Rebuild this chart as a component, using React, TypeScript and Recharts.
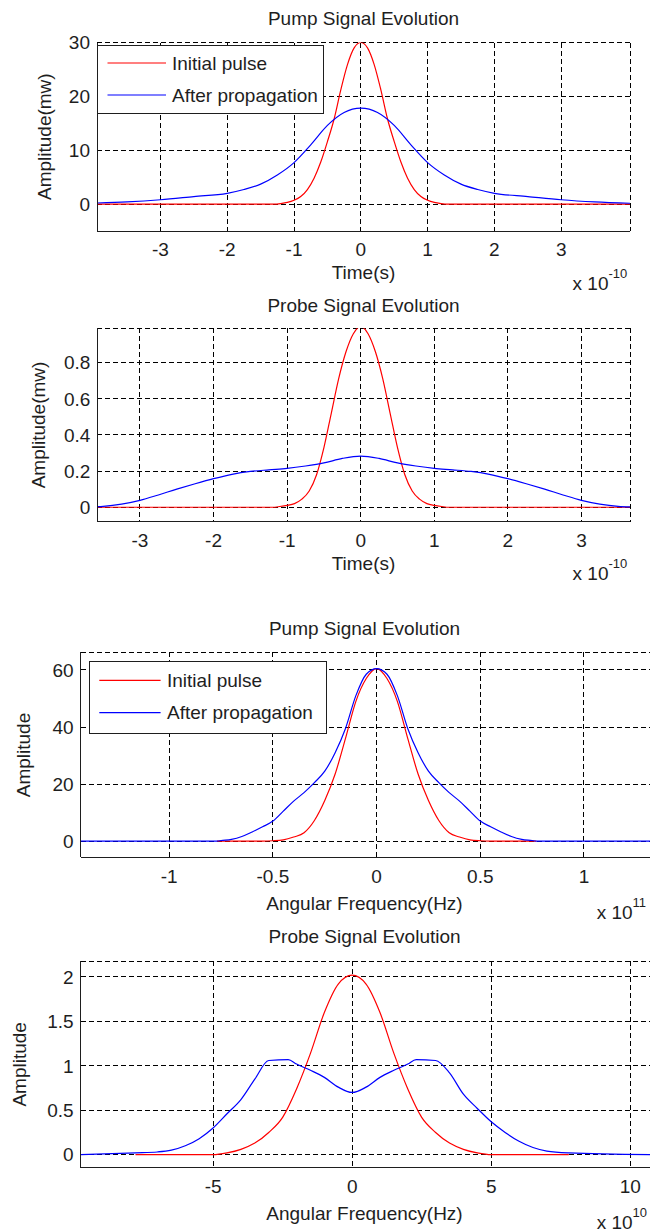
import { CartesianGrid, Legend, Line, LineChart, XAxis, YAxis } from "recharts";

const FONT = '"Liberation Sans", Arial, Helvetica, sans-serif';
const INK = "#1e1e1e";
const RED = "#ff0000";
const BLUE = "#0000ff";
const seriesNames = ["Initial pulse", "After propagation"];

// Pump, time domain (x in 1e-10 s, amplitude in mW)
const pumpTimeInitialX = [-3.95, -1.3, -1.2, -1.1, -1.0, -0.9, -0.8, -0.7, -0.6, -0.5, -0.4, -0.3, -0.2, -0.1, 0, 0.1, 0.2, 0.3, 0.4, 0.5, 0.6, 0.7, 0.8, 0.9, 1.0, 1.1, 1.2, 1.3, 4.03];
const pumpTimeInitialY = [0, 0, 0.1, 0.3, 0.7, 1.4, 2.7, 4.8, 7.8, 11.6, 15.8, 21.2, 25.9, 29.0, 30, 29.0, 25.9, 21.2, 15.8, 11.6, 7.8, 4.8, 2.7, 1.4, 0.7, 0.3, 0.1, 0, 0];
const pumpTimeAfterX = [-3.95, -3.5, -3.0, -2.5, -2.0, -1.75, -1.5, -1.25, -1.0, -0.75, -0.5, -0.25, 0, 0.25, 0.5, 0.75, 1.0, 1.25, 1.5, 1.75, 2.0, 2.5, 3.0, 3.5, 4.03];
const pumpTimeAfterY = [0.2, 0.4, 0.8, 1.4, 2.0, 2.7, 3.7, 5.4, 7.7, 11.0, 14.6, 17.0, 17.8, 17.0, 14.6, 11.0, 7.7, 5.4, 3.7, 2.7, 2.0, 1.4, 0.8, 0.4, 0.15];

// Probe, time domain
const probeTimeInitialX = [-3.58, -1.2, -1.1, -1.0, -0.9, -0.8, -0.7, -0.6, -0.5, -0.4, -0.3, -0.2, -0.1, 0, 0.1, 0.2, 0.3, 0.4, 0.5, 0.6, 0.7, 0.8, 0.9, 1.0, 1.1, 1.2, 3.66];
const probeTimeInitialY = [0, 0, 0.004, 0.01, 0.02, 0.045, 0.09, 0.18, 0.33, 0.52, 0.71, 0.86, 0.96, 1.0, 0.96, 0.86, 0.71, 0.52, 0.33, 0.18, 0.09, 0.045, 0.02, 0.01, 0.004, 0, 0];
const probeTimeAfterX = [-3.58, -3.5, -3.25, -3.0, -2.75, -2.5, -2.25, -2.0, -1.75, -1.5, -1.25, -1.0, -0.75, -0.5, -0.25, 0, 0.25, 0.5, 0.75, 1.0, 1.25, 1.5, 1.75, 2.0, 2.25, 2.5, 2.75, 3.0, 3.25, 3.5, 3.66];
const probeTimeAfterY = [0.003, 0.005, 0.017, 0.038, 0.068, 0.1, 0.13, 0.158, 0.182, 0.198, 0.207, 0.215, 0.228, 0.245, 0.27, 0.283, 0.27, 0.245, 0.228, 0.215, 0.207, 0.198, 0.182, 0.158, 0.13, 0.1, 0.068, 0.038, 0.017, 0.005, 0.002];

// Pump, spectrum (x in 1e11 Hz)
const pumpFreqInitialX = [-0.77, -0.55, -0.5, -0.45, -0.4, -0.35, -0.3, -0.25, -0.2, -0.15, -0.1, -0.05, 0, 0.05, 0.1, 0.15, 0.2, 0.25, 0.3, 0.35, 0.4, 0.45, 0.5, 0.55, 0.77];
const pumpFreqInitialY = [0, 0, 0.1, 0.4, 1.4, 2.9, 7.2, 14.2, 23.5, 36, 49, 57, 60.5, 57, 49, 36, 23.5, 14.2, 7.2, 2.9, 1.4, 0.4, 0.1, 0, 0];
const pumpFreqAfterX = [-1.427, -0.77, -0.75, -0.7, -0.65, -0.6, -0.55, -0.5, -0.45, -0.4, -0.35, -0.3, -0.25, -0.2, -0.15, -0.1, -0.05, 0, 0.05, 0.1, 0.15, 0.2, 0.25, 0.3, 0.35, 0.4, 0.45, 0.5, 0.55, 0.6, 0.65, 0.7, 0.75, 0.77, 1.328];
const pumpFreqAfterY = [0, 0, 0.2, 0.6, 1.6, 3.2, 5, 7, 10.5, 14, 17, 20.5, 24.5, 31, 39.5, 51, 58.5, 60.5, 58.5, 51, 39.5, 31, 24.5, 20.5, 17, 14, 10.5, 7, 5, 3.2, 1.6, 0.6, 0.2, 0, 0];

// Probe, spectrum (x in 1e10 Hz)
const probeFreqInitialX = [-7.79, -5, -4.5, -4, -3.5, -3, -2.5, -2, -1.5, -1, -0.5, 0, 0.5, 1, 1.5, 2, 2.5, 3, 3.5, 4, 4.5, 5, 7.79];
const probeFreqInitialY = [0, 0, 0.02, 0.06, 0.13, 0.25, 0.42, 0.74, 1.14, 1.6, 1.92, 2.02, 1.92, 1.6, 1.14, 0.74, 0.42, 0.25, 0.13, 0.06, 0.02, 0, 0];
const probeFreqAfterX = [-9.76, -7.79, -7, -6.5, -6, -5.5, -5, -4.5, -4, -3.5, -3, -2.3, -2, -1.5, -1, -0.5, 0, 0.5, 1, 1.5, 2, 2.3, 3, 3.5, 4, 4.5, 5, 5.5, 6, 6.5, 7, 7.79, 10.78];
const probeFreqAfterY = [0, 0.02, 0.03, 0.05, 0.1, 0.18, 0.3, 0.46, 0.62, 0.85, 1.06, 1.07, 1.02, 0.95, 0.87, 0.76, 0.7, 0.76, 0.87, 0.95, 1.02, 1.07, 1.06, 0.92, 0.68, 0.52, 0.37, 0.25, 0.15, 0.08, 0.04, 0.02, 0];

const timeTicks = [-3, -2, -1, 0, 1, 2, 3];
const pumpTimeYTicks = [0, 10, 20, 30];
const probeTimeYTicks = [0, 0.2, 0.4, 0.6, 0.8];
const pumpFreqXTicks = [-1, -0.5, 0, 0.5, 1];
const pumpFreqYTicks = [0, 20, 40, 60];
const probeFreqXTicks = [-5, 0, 5, 10];
const probeFreqYTicks = [0, 0.5, 1, 1.5, 2];

type Pt = { x: number; y: number };
const zip = (xs: number[], ys: number[]): Pt[] => xs.map((x, i) => ({ x, y: ys[i] }));

type LegendLayout = {
  left: number;
  top: number;
  width: number;
  height: number;
  rows: number[];
  lineX: [number, number];
  textX: number;
};

type PanelProps = {
  top: number;
  width: number;
  height: number;
  margin: { top: number; right: number; bottom: number; left: number };
  xDomain: [number, number];
  yDomain: [number, number];
  xTicks: number[];
  yTicks: number[];
  initial: Pt[];
  after: Pt[];
  legend?: LegendLayout;
};

function LegendBox({ payload, box }: { payload: any[]; box: LegendLayout }) {
  // keep plot order (red first), whatever order the legend hands over
  const items = [...payload].sort((a, b) => seriesNames.indexOf(a.value) - seriesNames.indexOf(b.value));
  return (
    <svg width={box.width} height={box.height} style={{ display: "block" }}>
      <rect x={0.5} y={0.5} width={box.width - 1} height={box.height - 1} fill="#fff" stroke={INK} shapeRendering="crispEdges" />
      {items.map((entry, i) => (
        <g key={entry.value}>
          <line x1={box.lineX[0]} x2={box.lineX[1]} y1={box.rows[i]} y2={box.rows[i]} stroke={entry.color} strokeWidth={1.2} />
          <text x={box.textX} y={box.rows[i] + 6.5} fontSize={19} fill={INK} fontFamily={FONT}>
            {entry.value}
          </text>
        </g>
      ))}
    </svg>
  );
}

function Panel(props: PanelProps) {
  const { legend } = props;
  const tick = { fontSize: 19, fill: INK, fontFamily: FONT };
  const edge = { stroke: INK, shapeRendering: "crispEdges" };
  return (
    <div style={{ position: "absolute", left: 0, top: props.top }}>
      <LineChart width={props.width} height={props.height} margin={props.margin}>
        <CartesianGrid stroke="#000" strokeDasharray="5 3" shapeRendering="crispEdges" />
        <XAxis
          dataKey="x"
          type="number"
          domain={props.xDomain}
          ticks={props.xTicks}
          interval={0}
          allowDataOverflow
          height={40}
          tick={tick}
          tickLine={false}
          tickSize={6}
          tickMargin={6}
          axisLine={edge}
        />
        <XAxis xAxisId="top" orientation="top" type="number" domain={props.xDomain} allowDataOverflow height={0} tick={false} tickLine={false} axisLine={edge} />
        <YAxis
          type="number"
          domain={props.yDomain}
          ticks={props.yTicks}
          interval={0}
          allowDataOverflow
          width={60}
          tick={tick}
          tickLine={false}
          tickSize={6}
          tickMargin={1}
          axisLine={edge}
        />
        <YAxis yAxisId="right" orientation="right" type="number" domain={props.yDomain} allowDataOverflow width={0} tick={false} tickLine={false} axisLine={edge} />
        <Line data={props.initial} dataKey="y" name={seriesNames[0]} type="monotone" stroke={RED} strokeWidth={1.2} dot={false} activeDot={false} isAnimationActive={false} />
        <Line data={props.after} dataKey="y" name={seriesNames[1]} type="monotone" stroke={BLUE} strokeWidth={1.2} dot={false} activeDot={false} isAnimationActive={false} />
        {legend ? (
          <Legend
            layout="vertical"
            align="center"
            verticalAlign="middle"
            wrapperStyle={{ left: legend.left, top: legend.top, width: legend.width, height: legend.height }}
            content={(p: any) => <LegendBox payload={p.payload ?? []} box={legend} />}
          />
        ) : null}
      </LineChart>
    </div>
  );
}

function Labels() {
  const t = { fontSize: 19, fill: INK, fontFamily: FONT };
  const sup = (x: number, y: number, power: string) => (
    <text x={x} y={y} {...t}>
      x 10
      <tspan dy={-12.5} fontSize={13}>
        {power}
      </tspan>
    </text>
  );
  return (
    <svg width={650} height={1232} style={{ position: "absolute", left: 0, top: 0, pointerEvents: "none" }}>
      <text x={363.5} y={25.3} textAnchor="middle" {...t}>Pump Signal Evolution</text>
      <text x={363.5} y={279.3} textAnchor="middle" {...t}>Time(s)</text>
      <text transform="translate(51 136.7) rotate(-90)" textAnchor="middle" {...t}>Amplitude(mw)</text>
      {sup(572.6, 290, "-10")}

      <text x={363.5} y={312} textAnchor="middle" {...t}>Probe Signal Evolution</text>
      <text x={363.5} y={570.3} textAnchor="middle" {...t}>Time(s)</text>
      <text transform="translate(44.5 425) rotate(-90)" textAnchor="middle" {...t}>Amplitude(mw)</text>
      {sup(572.6, 580, "-10")}

      <text x={364.5} y={635.3} textAnchor="middle" {...t}>Pump Signal Evolution</text>
      <text x={364.5} y={909.6} textAnchor="middle" {...t}>Angular Frequency(Hz)</text>
      <text transform="translate(30.4 755) rotate(-90)" textAnchor="middle" {...t}>Amplitude</text>
      {sup(596.7, 919, "11")}

      <text x={364.5} y={943} textAnchor="middle" {...t}>Probe Signal Evolution</text>
      <text x={364.5} y={1219.6} textAnchor="middle" {...t}>Angular Frequency(Hz)</text>
      <text transform="translate(26.2 1064.3) rotate(-90)" textAnchor="middle" {...t}>Amplitude</text>
      {sup(596.7, 1229.3, "10")}
    </svg>
  );
}

export default function App() {
  return (
    <div style={{ position: "fixed", left: 0, top: 0, width: 650, height: 1232, overflow: "hidden", background: "#fff", fontFamily: FONT }}>
      <Panel
        top={0}
        width={650}
        height={300}
        margin={{ top: 42.5, right: 20, bottom: 29, left: 37 }}
        xDomain={[-3.95, 4.03]}
        yDomain={[-5, 30]}
        xTicks={timeTicks}
        yTicks={pumpTimeYTicks}
        initial={zip(pumpTimeInitialX, pumpTimeInitialY)}
        after={zip(pumpTimeAfterX, pumpTimeAfterY)}
        legend={{ left: 97, top: 45, width: 227, height: 69, rows: [18, 50], lineX: [10.5, 69], textX: 75 }}
      />
      <Panel
        top={290}
        width={650}
        height={300}
        margin={{ top: 38.3, right: 20, bottom: 28.3, left: 37.3 }}
        xDomain={[-3.58, 3.66]}
        yDomain={[-0.08, 0.99]}
        xTicks={timeTicks}
        yTicks={probeTimeYTicks}
        initial={zip(probeTimeInitialX, probeTimeInitialY)}
        after={zip(probeTimeAfterX, probeTimeAfterY)}
      />
      <Panel
        top={610}
        width={700}
        height={300}
        margin={{ top: 42.3, right: 48, bottom: 12.7, left: 20.7 }}
        xDomain={[-1.427, 1.328]}
        yDomain={[-5.7, 66.2]}
        xTicks={pumpFreqXTicks}
        yTicks={pumpFreqYTicks}
        initial={zip(pumpFreqInitialX, pumpFreqInitialY)}
        after={zip(pumpFreqAfterX, pumpFreqAfterY)}
        legend={{ left: 89, top: 50.7, width: 238, height: 73, rows: [19.3, 51.6], lineX: [10.3, 71.6], textX: 78 }}
      />
      <Panel
        top={920}
        width={700}
        height={300}
        margin={{ top: 41, right: 48, bottom: 12.3, left: 20.7 }}
        xDomain={[-9.76, 10.78]}
        yDomain={[-0.147, 2.18]}
        xTicks={probeFreqXTicks}
        yTicks={probeFreqYTicks}
        initial={zip(probeFreqInitialX, probeFreqInitialY)}
        after={zip(probeFreqAfterX, probeFreqAfterY)}
      />
      <Labels />
    </div>
  );
}
